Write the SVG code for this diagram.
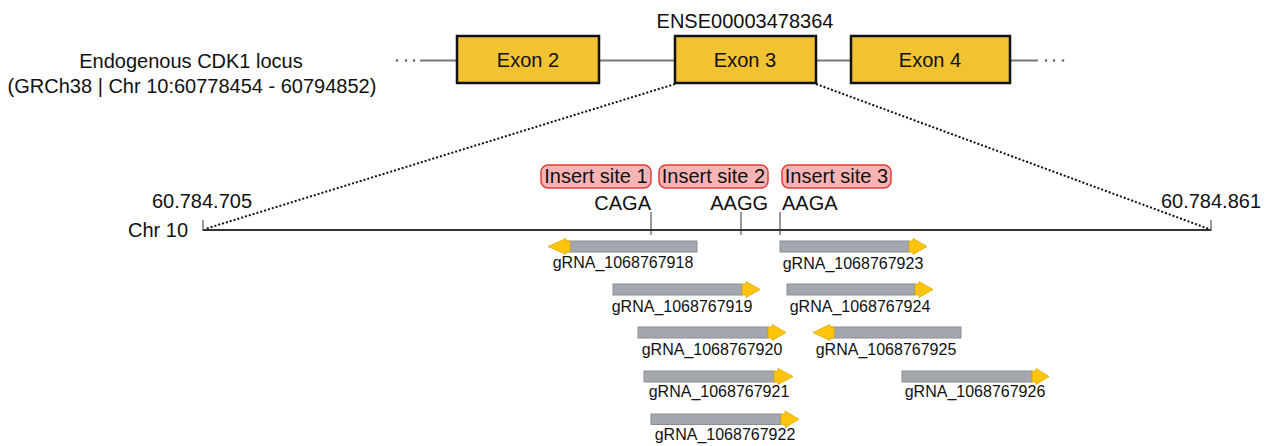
<svg xmlns="http://www.w3.org/2000/svg" width="1265" height="446" viewBox="0 0 1265 446">
<style>
text{font-family:"Liberation Sans",Arial,sans-serif;fill:#111}
.big{font-size:20px}
.small{font-size:16px}
.exon rect{fill:#F1C232;stroke:#111;stroke-width:2.5}
.intron{stroke:#777;stroke-width:2;fill:none}
.dot{fill:#666}
.zoom{stroke:#111;stroke-width:2;stroke-dasharray:2 2;fill:none}
.chr{stroke:#333;stroke-width:2.2;fill:none}
.tick{stroke:#333;stroke-width:1;fill:none}
.site rect{fill:#F8B4B4;stroke:#E83A3A;stroke-width:1.5}
.bar{fill:#A3A7AE;stroke:#8A8D93;stroke-width:1}
.head{fill:#FFC40C;stroke:#E0A800;stroke-width:0.8}
</style>
<g id="locus-label">
<text class="big" x="191" y="68" text-anchor="middle">Endogenous CDK1 locus</text>
<text class="big" x="192" y="93" text-anchor="middle">(GRCh38 | Chr 10:60778454 - 60794852)</text>
</g>
<g id="gene-backbone">
<line class="intron" x1="420" y1="60.5" x2="1038" y2="60.5"/>
<circle class="dot" cx="397" cy="60.5" r="1.3"/>
<circle class="dot" cx="406" cy="60.5" r="1.3"/>
<circle class="dot" cx="414" cy="60.5" r="1.3"/>
<circle class="dot" cx="1046" cy="60.5" r="1.3"/>
<circle class="dot" cx="1054" cy="60.5" r="1.3"/>
<circle class="dot" cx="1063" cy="60.5" r="1.3"/>
</g>
<g id="exon2" class="exon">
<rect x="457" y="36" width="142" height="47"/>
<text class="big" x="528" y="67" text-anchor="middle">Exon 2</text>
</g>
<g id="exon3" class="exon">
<rect x="675" y="36" width="141" height="47"/>
<text class="big" x="745" y="67" text-anchor="middle">Exon 3</text>
<text class="big" x="745" y="28" text-anchor="middle">ENSE00003478364</text>
</g>
<g id="exon4" class="exon">
<rect x="851" y="36" width="159" height="47"/>
<text class="big" x="930" y="67" text-anchor="middle">Exon 4</text>
</g>
<g id="connectors">
<line class="zoom" x1="675" y1="84" x2="205" y2="229"/>
<line class="zoom" x1="816" y1="84" x2="1209" y2="229"/>
</g>
<g id="chr10">
<line class="chr" x1="203" y1="230" x2="1211" y2="230"/>
<line class="tick" x1="203" y1="220" x2="203" y2="231"/>
<line class="tick" x1="1211" y1="220" x2="1211" y2="231"/>
<text class="big" x="202" y="208" text-anchor="middle">60.784.705</text>
<text class="big" x="1211" y="208" text-anchor="middle">60.784.861</text>
<text class="big" x="128" y="237">Chr 10</text>
<line class="tick" x1="651" y1="212" x2="651" y2="235"/>
<line class="tick" x1="741" y1="212" x2="741" y2="235"/>
<line class="tick" x1="780" y1="212" x2="780" y2="235"/>
<text class="big" x="651" y="210" text-anchor="end">CAGA</text>
<text class="big" x="768" y="210" text-anchor="end">AAGG</text>
<text class="big" x="782" y="210">AAGA</text>
</g>
<g id="insert-site-1" class="site">
<rect x="541" y="165" width="110" height="23" rx="7"/>
<text class="big" x="596" y="183" text-anchor="middle">Insert site 1</text>
</g>
<g id="insert-site-2" class="site">
<rect x="659" y="165" width="109" height="23" rx="7"/>
<text class="big" x="713.5" y="183" text-anchor="middle">Insert site 2</text>
</g>
<g id="insert-site-3" class="site">
<rect x="782" y="165" width="109" height="23" rx="7"/>
<text class="big" x="836.5" y="183" text-anchor="middle">Insert site 3</text>
</g>
<g id="gRNA_1068767918">
<rect class="bar" x="567" y="241" width="130" height="11"/>
<polygon class="head" points="570,241 566,241 566,238.5 548,246.5 566,254.5 566,252 570,252"/>
<text class="small" x="623" y="268" text-anchor="middle">gRNA_1068767918</text>
</g>
<g id="gRNA_1068767919">
<rect class="bar" x="613" y="284" width="129" height="11"/>
<polygon class="head" points="742,284 746,284 746,281.5 760,289.5 746,297.5 746,295 742,295"/>
<text class="small" x="682" y="312" text-anchor="middle">gRNA_1068767919</text>
</g>
<g id="gRNA_1068767920">
<rect class="bar" x="638" y="327" width="130" height="11"/>
<polygon class="head" points="768,327 772,327 772,324.5 786,332.5 772,340.5 772,338 768,338"/>
<text class="small" x="712" y="355" text-anchor="middle">gRNA_1068767920</text>
</g>
<g id="gRNA_1068767921">
<rect class="bar" x="644" y="371" width="130" height="11"/>
<polygon class="head" points="774,371 778,371 778,368.5 793,376.5 778,384.5 778,382 774,382"/>
<text class="small" x="719" y="397" text-anchor="middle">gRNA_1068767921</text>
</g>
<g id="gRNA_1068767922">
<rect class="bar" x="651" y="414" width="130" height="10.5"/>
<polygon class="head" points="781,414 785,414 785,411 799,419.2 785,427.5 785,424.5 781,424.5"/>
<text class="small" x="725" y="440" text-anchor="middle">gRNA_1068767922</text>
</g>
<g id="gRNA_1068767923">
<rect class="bar" x="780" y="241" width="129" height="11"/>
<polygon class="head" points="909,241 913,241 913,238.5 927,246.5 913,254.5 913,252 909,252"/>
<text class="small" x="853" y="269" text-anchor="middle">gRNA_1068767923</text>
</g>
<g id="gRNA_1068767924">
<rect class="bar" x="787" y="284" width="128" height="11"/>
<polygon class="head" points="915,284 919,284 919,281.5 933,289.5 919,297.5 919,295 915,295"/>
<text class="small" x="860" y="312" text-anchor="middle">gRNA_1068767924</text>
</g>
<g id="gRNA_1068767925">
<rect class="bar" x="831" y="327" width="130" height="11"/>
<polygon class="head" points="834,327 830,327 830,324.5 813,332.5 830,340.5 830,338 834,338"/>
<text class="small" x="886" y="355" text-anchor="middle">gRNA_1068767925</text>
</g>
<g id="gRNA_1068767926">
<rect class="bar" x="902" y="371" width="130" height="11"/>
<polygon class="head" points="1032,371 1036,371 1036,368.5 1049,376.5 1036,384.5 1036,382 1032,382"/>
<text class="small" x="975" y="397" text-anchor="middle">gRNA_1068767926</text>
</g>
</svg>
